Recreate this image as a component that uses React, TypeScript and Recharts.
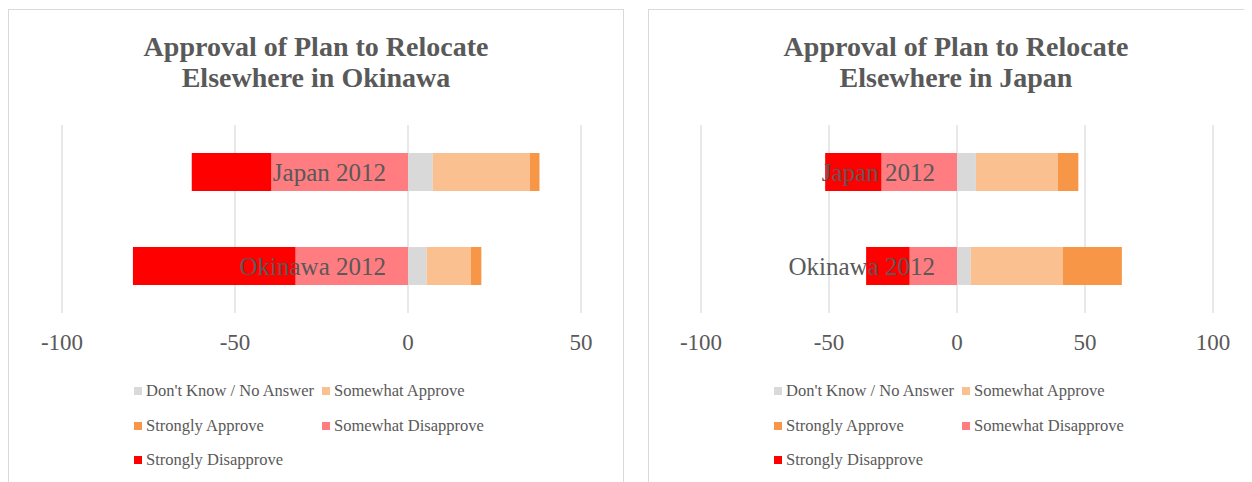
import React from 'react';
import { BarChart, Bar, XAxis, YAxis, CartesianGrid, ReferenceDot } from 'recharts';

const categories = ['Japan 2012', 'Okinawa 2012'];

const seriesNames = [
  "Don't Know / No Answer",
  'Somewhat Approve',
  'Strongly Approve',
  'Somewhat Disapprove',
  'Strongly Disapprove',
];
const seriesKeys = ['dk', 'sa', 'sta', 'swd', 'sd'];
const seriesColors = ['#D9D9D9', '#FAC090', '#F79646', '#FF7C80', '#FF0000'];

// Panel 1: Approval of Plan to Relocate Elsewhere in Okinawa
const okiDontKnow = [7.2, 5.4];
const okiSomewhatApprove = [28, 12.8];
const okiStronglyApprove = [2.8, 3];
const okiSomewhatDisapprove = [-39.5, -32.5];
const okiStronglyDisapprove = [-23, -47];
const okiTicks = [-100, -50, 0, 50];

// Panel 2: Approval of Plan to Relocate Elsewhere in Japan
const japDontKnow = [7.4, 5.4];
const japSomewhatApprove = [32, 36];
const japStronglyApprove = [8, 23];
const japSomewhatDisapprove = [-29.5, -18.5];
const japStronglyDisapprove = [-22, -17];
const japTicks = [-100, -50, 0, 50, 100];

const FONT = "'Liberation Serif', 'Times New Roman', serif";
const TEXT = '#595959';

function buildRows(dk: number[], sa: number[], sta: number[], swd: number[], sd: number[]) {
  return categories.map((name, i) => ({
    name,
    dk: dk[i],
    sa: sa[i],
    sta: sta[i],
    swd: swd[i],
    sd: sd[i],
  }));
}

const okiData = buildRows(okiDontKnow, okiSomewhatApprove, okiStronglyApprove, okiSomewhatDisapprove, okiStronglyDisapprove);
const japData = buildRows(japDontKnow, japSomewhatApprove, japStronglyApprove, japSomewhatDisapprove, japStronglyDisapprove);

type PanelProps = {
  left: number;
  titleLines: string[];
  data: any[];
  ticks: number[];
  margin: { top: number; right: number; bottom: number; left: number };
};

function Panel({ left, titleLines, data, ticks, margin }: PanelProps) {
  const legendRows: number[][] = [[0, 1], [2, 3], [4]];
  return (
    <div
      style={{
        position: 'absolute',
        left,
        top: 1,
        width: 616,
        height: 520,
        border: '1px solid #D9D9D9',
        boxSizing: 'border-box',
        background: '#fff',
      }}
    >
      <div
        style={{
          position: 'absolute',
          top: 21,
          left: 0,
          width: 614,
          textAlign: 'center',
          fontFamily: FONT,
          fontWeight: 'bold',
          fontSize: 28,
          lineHeight: '31px',
          color: TEXT,
        }}
      >
        {titleLines.map((t) => (
          <div key={t}>{t}</div>
        ))}
      </div>
      <div style={{ position: 'absolute', top: 0, left: 0 }}>
        <BarChart
          width={614}
          height={363}
          data={data}
          layout="vertical"
          stackOffset="sign"
          margin={margin}
          barSize={38}
        >
          <CartesianGrid horizontal={false} stroke="#D9D9D9" strokeWidth={1.2} />
          <XAxis
            type="number"
            domain={[ticks[0], ticks[ticks.length - 1]]}
            ticks={ticks}
            axisLine={false}
            tickLine={false}
            tickSize={0}
            tickMargin={21}
            height={40}
            interval={0}
            tick={{ fill: TEXT, fontSize: 23, fontFamily: FONT }}
          />
          <YAxis type="category" dataKey="name" hide width={0} />
          {seriesKeys.map((k, i) => (
            <Bar
              key={k}
              dataKey={k}
              name={seriesNames[i]}
              stackId="a"
              fill={seriesColors[i]}
              isAnimationActive={false}
            />
          ))}
          {categories.map((c) => (
            <ReferenceDot
              key={c}
              x={0}
              y={c}
              r={0}
              fill="none"
              stroke="none"
              label={{
                value: c,
                position: 'left',
                offset: 22,
                fill: TEXT,
                fontSize: 25,
                fontFamily: FONT,
              }}
            />
          ))}
        </BarChart>
      </div>
      <div style={{ position: 'absolute', left: 125, top: 364, fontFamily: FONT, color: TEXT, fontSize: 16.5 }}>
        {legendRows.map((row, ri) => (
          <div key={ri} style={{ display: 'flex', height: 34.5, alignItems: 'center' }}>
            {row.map((si) => (
              <div key={si} style={{ display: 'flex', alignItems: 'center', width: 188 }}>
                <span
                  style={{
                    display: 'inline-block',
                    width: 8,
                    height: 8,
                    background: seriesColors[si],
                    marginRight: 4,
                  }}
                />
                <span style={{ whiteSpace: 'nowrap' }}>{seriesNames[si]}</span>
              </div>
            ))}
          </div>
        ))}
      </div>
    </div>
  );
}

export default function App() {
  return (
    <div style={{ position: 'relative', width: 1244, height: 474, overflow: 'hidden' }}>
      <Panel
        left={0}
        titleLines={['Approval of Plan to Relocate', 'Elsewhere in Okinawa']}
        data={okiData}
        ticks={okiTicks}
        margin={{ top: 115, right: 42, bottom: 20, left: 53 }}
      />
      <Panel
        left={640}
        titleLines={['Approval of Plan to Relocate', 'Elsewhere in Japan']}
        data={japData}
        ticks={japTicks}
        margin={{ top: 115, right: 50, bottom: 20, left: 52 }}
      />
    </div>
  );
}
